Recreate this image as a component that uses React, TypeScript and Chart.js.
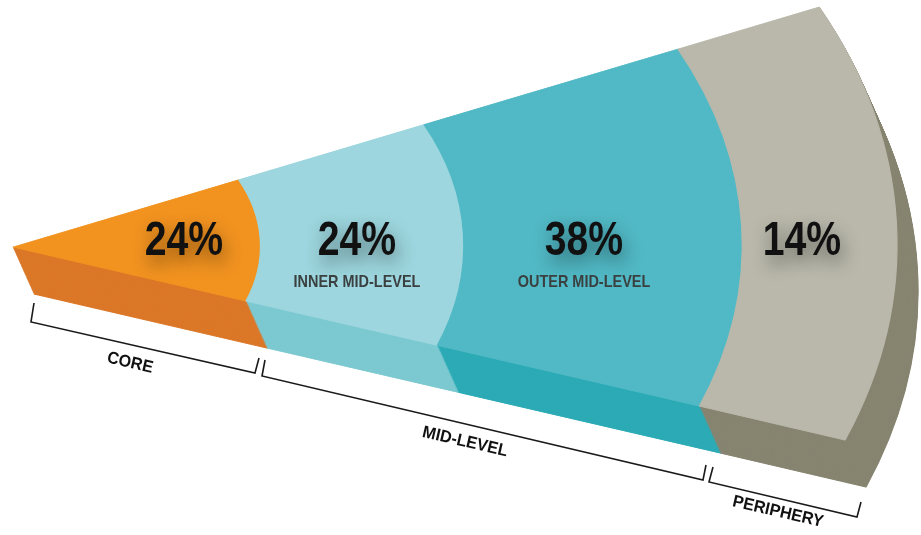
import { useEffect, useRef } from 'react';
import { Chart, registerables } from 'chart.js';
Chart.register(...registerables);

// ---- data ----
const segments = ['Core', 'Inner mid-level', 'Outer mid-level', 'Periphery'];
const shares = [24, 24, 38, 14];
const subLabels = ['', 'INNER MID-LEVEL', 'OUTER MID-LEVEL', ''];
const groupLabels = ['CORE', 'MID-LEVEL', 'PERIPHERY'];

// ---- styles / layout ----
const topColors = ['#F29320', '#9DD6DE', '#51B9C5', '#B9B8AB'];
const sideColors = ['#DB7829', '#7DC9D1', '#2DABB6', '#878571'];
const ringDepth = [0.28, 0.23, 0.315, 0.175]; // radial depth of each ring (core -> periphery)

const APEX = { x: 13, y: 247 };
const TOP_CORNER = { x: 819, y: 7 };
const BOTTOM_CORNER = { x: 845, y: 440 };
const HALF_ANGLE = 22;
const SIDE = { x: 21, y: 47 };

const numberPos = [[184, 239], [357, 239], [584, 239], [802, 239]];
const subY = 282;
const brackets = [
  { pts: [[34, 303], [31, 322], [255, 373], [259, 358]], label: [130, 363] },
  { pts: [[265, 360], [262, 376], [703, 480], [706, 465]], label: [465, 442] },
  { pts: [[713, 467], [709, 482], [857, 517], [861, 502]], label: [778, 512] },
];
const bracketAngle = Math.atan(0.232);

const wedgePlugin = {
  id: 'wedge',
  beforeDatasetsDraw(chart: any) {
    const ctx = chart.ctx;
    const el = chart.getDatasetMeta(0).data[0];
    const cx = el.x, cy = el.y, Rc = el.outerRadius;
    const th = (HALF_ANGLE * Math.PI) / 180;
    const mx = (TOP_CORNER.x + BOTTOM_CORNER.x) / 2 - APEX.x;
    const my = (TOP_CORNER.y + BOTTOM_CORNER.y) / 2 - APEX.y;
    const RU = [mx / Math.cos(th), my / Math.cos(th)];
    const RV = [(BOTTOM_CORNER.x - TOP_CORNER.x) / 2 / Math.sin(th), (BOTTOM_CORNER.y - TOP_CORNER.y) / 2 / Math.sin(th)];
    const a = RU[0] / Rc, b = RU[1] / Rc, c = RV[0] / Rc, d = RV[1] / Rc;
    const e = APEX.x - a * cx - c * cy, f = APEX.y - b * cx - d * cy;
    const N = 60;
    for (let k = N; k >= 1; k--) {
      ctx.save();
      ctx.translate((SIDE.x * k) / N, (SIDE.y * k) / N);
      ctx.transform(a, b, c, d, e, f);
      chart.data.datasets.forEach((ds: any, i: number) => {
        const meta = chart.getDatasetMeta(i);
        meta.data.forEach((arc: any) => {
          const orig = arc.options;
          arc.options = { ...orig, backgroundColor: ds.sideColor, borderColor: ds.sideColor };
          arc.draw(ctx);
          arc.options = orig;
        });
      });
      ctx.restore();
    }
    ctx.save();
    ctx.transform(a, b, c, d, e, f);
  },
  afterDatasetsDraw(chart: any) {
    const ctx = chart.ctx;
    ctx.restore();

    // percentage labels
    shares.forEach((v, i) => {
      const [x, y] = numberPos[i];
      ctx.save();
      ctx.translate(x, y);
      ctx.scale(0.8, 1);
      ctx.font = 'bold 49px "Liberation Sans", Arial, sans-serif';
      ctx.textAlign = 'center';
      ctx.textBaseline = 'middle';
      ctx.shadowColor = 'rgba(0,0,0,0.45)';
      ctx.shadowBlur = 18;
      ctx.shadowOffsetX = 3;
      ctx.shadowOffsetY = 8;
      ctx.fillStyle = '#111111';
      ctx.fillText(v + '%', 0, 2);
      ctx.restore();
      if (subLabels[i]) {
        ctx.save();
        ctx.translate(x, subY);
        ctx.scale(0.85, 1);
        ctx.font = 'bold 17px "Liberation Sans", Arial, sans-serif';
        ctx.textAlign = 'center';
        ctx.textBaseline = 'middle';
        ctx.fillStyle = '#3a3f40';
        ctx.fillText(subLabels[i], 0, 0);
        ctx.restore();
      }
    });

    // brackets
    brackets.forEach((br, i) => {
      ctx.save();
      ctx.strokeStyle = '#1a1a1a';
      ctx.lineWidth = 1.6;
      ctx.lineJoin = 'miter';
      ctx.beginPath();
      br.pts.forEach(([px, py], j) => (j === 0 ? ctx.moveTo(px, py) : ctx.lineTo(px, py)));
      ctx.stroke();
      ctx.translate(br.label[0], br.label[1]);
      ctx.rotate(bracketAngle);
      ctx.scale(0.95, 1);
      ctx.font = 'bold 17px "Liberation Sans", Arial, sans-serif';
      ctx.textAlign = 'center';
      ctx.textBaseline = 'middle';
      ctx.fillStyle = '#111111';
      ctx.fillText(groupLabels[i], 0, 0);
      ctx.restore();
    });
  },
};

export default function App() {
  const ref = useRef<HTMLCanvasElement>(null);
  useEffect(() => {
    if (!ref.current) return;
    const order = [3, 2, 1, 0]; // outermost ring first
    const chart = new Chart(ref.current, {
      type: 'pie',
      data: {
        labels: ['share'],
        datasets: order.map((i) => ({
          label: segments[i],
          data: [shares[i]],
          backgroundColor: topColors[i],
          borderColor: topColors[i],
          borderWidth: 1,
          weight: ringDepth[i],
          clip: false,
          sideColor: sideColors[i],
        })) as any,
      },
      options: {
        responsive: false,
        animation: false,
        devicePixelRatio: 1,
        rotation: 90 - HALF_ANGLE,
        circumference: HALF_ANGLE * 2,
        events: [],
        plugins: { legend: { display: false }, tooltip: { enabled: false } },
      } as any,
      plugins: [wedgePlugin],
    });
    return () => chart.destroy();
  }, []);
  return (
    <div style={{ position: 'fixed', left: 0, top: 0, width: 921, height: 535, background: '#fff' }}>
      <canvas ref={ref} width={921} height={535} style={{ display: 'block' }} />
    </div>
  );
}
